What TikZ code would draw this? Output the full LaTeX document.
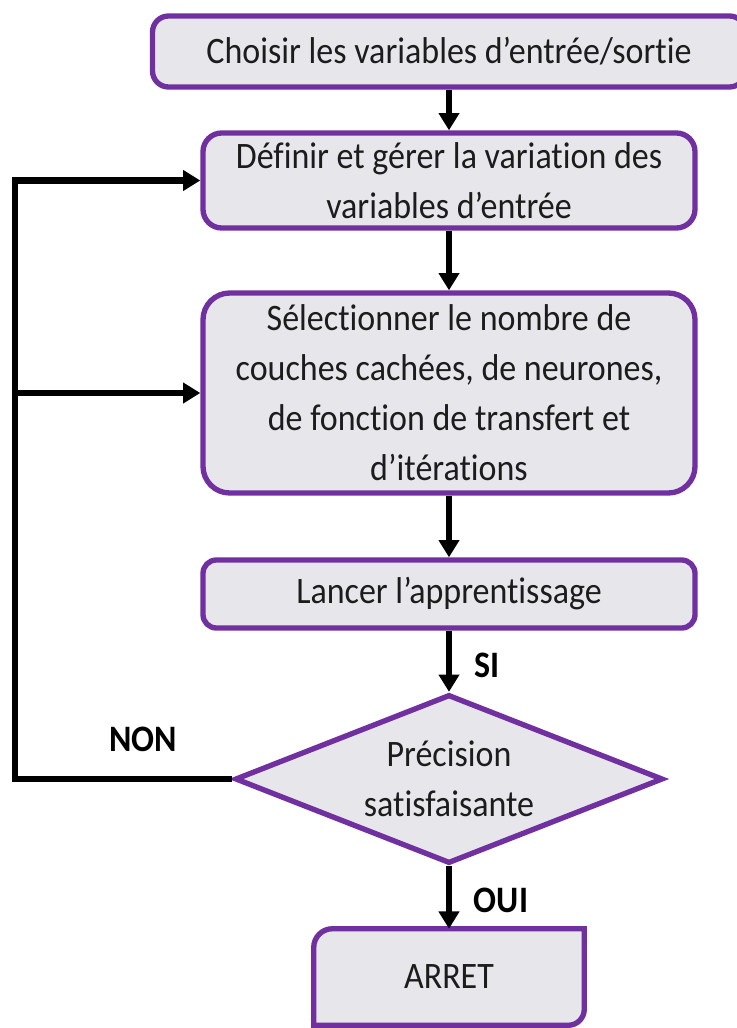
\documentclass[tikz,border=0pt]{standalone}
\usepackage{fontspec}
\setmainfont{Carlito}[Ligatures={NoCommon},FakeStretch=0.91]
\usetikzlibrary{shapes.geometric,arrows.meta,backgrounds,calc}
\definecolor{bordviolet}{RGB}{112,48,160}
\definecolor{fondgris}{RGB}{231,230,234}
\definecolor{textnoir}{RGB}{28,28,28}

\begin{document}
\begin{tikzpicture}[x=0.75pt,y=-0.75pt,>={Triangle[length=13pt,width=15pt]}]
%===STYLES===
\tikzset{boite/.style={draw=bordviolet,fill=fondgris,line width=4pt,text=textnoir,align=center,
 inner sep=0pt,font=\fontsize{28}{37.5}\selectfont},
 fleche/.style={->,line width=5pt,black},
 etiquette/.style={text=black,font=\fontsize{28}{34}\selectfont\bfseries}}
%===cadre===
\path[use as bounding box,clip] (0,0) rectangle (737,1028);
%===boites===
\node[boite,rounded corners=12pt,minimum width=444.75pt,minimum height=53.25pt] (choix) at (449,51.5) {Choisir les variables d’entrée/sortie};
\node[boite,rounded corners=14pt,minimum width=369pt,minimum height=71.25pt] (def) at (449,180.5) {Définir et gérer la variation des\\variables d’entrée};
\node[boite,rounded corners=20pt,minimum width=369pt,minimum height=150pt] (sel) at (449,393) {Sélectionner le nombre de\\couches cachées, de neurones,\\de fonction de transfert et\\d’itérations};
\node[boite,rounded corners=10pt,minimum width=369pt,minimum height=51pt] (lanc) at (449,594) {Lancer l’apprentissage};
\node[boite,diamond,aspect=2.53,minimum width=321pt,minimum height=126.75pt] (prec) at (449,779) {Précision\\satisfaisante};
\node[text=textnoir,font=\fontsize{28}{37.5}\selectfont,minimum width=202.5pt,minimum height=72pt] (arret) at (449,977) {ARRET};
\begin{scope}[on background layer]
\draw[draw=bordviolet,fill=fondgris,line width=4pt] (arret.south west)
 [rounded corners=14pt] -- (arret.north west) [sharp corners] -- (arret.north east)
 [rounded corners=12pt] -- (arret.south east) [sharp corners] -- (arret.south west) -- cycle;
\end{scope}
%===etiquettes===
\node[etiquette] (si) at (487,665) {SI};
\node[etiquette] (oui) at (501,900) {OUI};
\node[etiquette] (non) at (143,739) {NON};
%===fleches===
\draw[fleche] (choix.south) -- (def.north);
\draw[fleche] (def.south) -- (sel.north);
\draw[fleche] (sel.south) -- (lanc.north);
\draw[fleche] (lanc.south) -- (prec.north);
\draw[fleche] (prec.south) -- (arret.north);
%===retour NON===
\coordinate (retour) at (15,779);
\draw[fleche] (prec.west) -- (retour) |- (def.west);
\draw[fleche] (retour |- sel.west) -- (sel.west);
\end{tikzpicture}
\end{document}
